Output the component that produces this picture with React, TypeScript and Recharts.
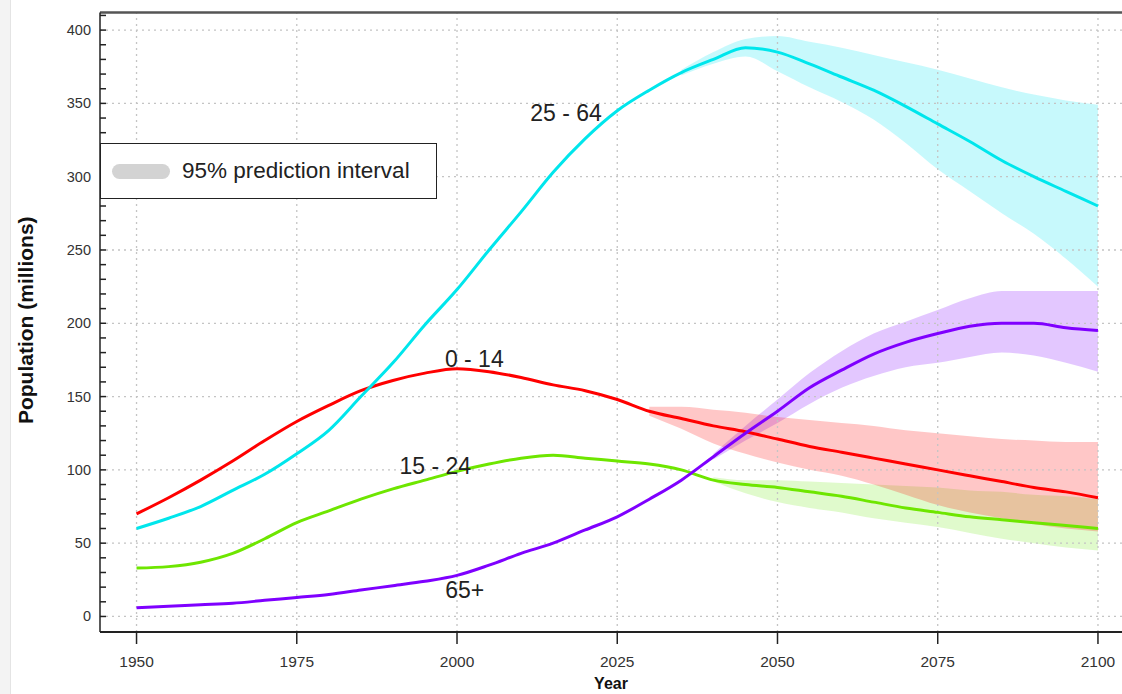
import React from 'react';
import {
  ComposedChart,
  Line,
  Area,
  XAxis,
  YAxis,
  ReferenceLine,
  ReferenceDot,
  Legend,
} from 'recharts';

// ---------- data ----------
const YEARS = [
  1950, 1955, 1960, 1965, 1970, 1975, 1980, 1985, 1990, 1995, 2000, 2005, 2010, 2015, 2020, 2025,
  2030, 2035, 2040, 2045, 2050, 2055, 2060, 2065, 2070, 2075, 2080, 2085, 2090, 2095, 2100,
];

const AGE_0_14 = [
  70, 81, 93, 106, 120, 133, 144, 154, 161, 166, 169, 167, 163, 158, 154, 148,
  140, 135, 130, 126, 121, 116, 112, 108, 104, 100, 96, 92, 88, 85, 81,
];
const AGE_15_24 = [
  33, 34, 37, 43, 53, 64, 72, 80, 87, 93, 99, 104, 108, 110, 108, 106,
  104, 100, 93, 90, 88, 85, 82, 78, 74, 71, 68, 66, 64, 62, 60,
];
const AGE_25_64 = [
  60, 67, 75, 86, 97, 111, 127, 150, 173, 199, 223, 250, 276, 303, 326, 345,
  359, 371, 380, 388, 385, 377, 368, 359, 348, 336, 324, 311, 300, 290, 280,
];
const AGE_65 = [
  6, 7, 8, 9, 11, 13, 15, 18, 21, 24, 28, 35, 43, 50, 59, 68,
  80, 93, 109, 125, 140, 156, 168, 179, 187, 193, 198, 200, 200, 197, 195,
];

// 95% prediction intervals (null = no interval)
const N = null;
const PI_0_14_LO = [N, N, N, N, N, N, N, N, N, N, N, N, N, N, N, N,
  137, 128, 118, 111, 105, 100, 96, 90, 83, 76, 71, 67, 63, 60, 58];
const PI_0_14_HI = [N, N, N, N, N, N, N, N, N, N, N, N, N, N, N, N,
  143, 143, 141, 139, 136, 134, 132, 130, 127, 125, 123, 121, 120, 119, 119];
const PI_15_24_LO = [N, N, N, N, N, N, N, N, N, N, N, N, N, N, N, N, N, N,
  92, 84, 78, 74, 71, 67, 64, 61, 57, 53, 50, 47, 45];
const PI_15_24_HI = [N, N, N, N, N, N, N, N, N, N, N, N, N, N, N, N, N, N,
  95, 93, 93, 92, 91, 90, 89, 88, 86, 85, 83, 82, 80];
const PI_25_64_LO = [N, N, N, N, N, N, N, N, N, N, N, N, N, N, N, N, N,
  369, 377, 382, 372, 361, 351, 339, 323, 305, 290, 275, 261, 244, 225];
const PI_25_64_HI = [N, N, N, N, N, N, N, N, N, N, N, N, N, N, N, N, N,
  373, 385, 394, 396, 392, 388, 383, 378, 373, 367, 361, 356, 352, 349];
const PI_65_LO = [N, N, N, N, N, N, N, N, N, N, N, N, N, N, N, N, N, N,
  107, 120, 132, 145, 156, 164, 170, 173, 177, 180, 178, 173, 167];
const PI_65_HI = [N, N, N, N, N, N, N, N, N, N, N, N, N, N, N, N, N, N,
  111, 130, 148, 166, 181, 193, 201, 209, 217, 222, 222, 222, 222];

const X_TICKS = [1950, 1975, 2000, 2025, 2050, 2075, 2100];
const Y_MAJOR = [0, 50, 100, 150, 200, 250, 300, 350, 400];
const Y_MINOR = [0, 10, 20, 30, 40, 50, 60, 70, 80, 90, 100, 110, 120, 130, 140, 150, 160, 170, 180, 190,
  200, 210, 220, 230, 240, 250, 260, 270, 280, 290, 300, 310, 320, 330, 340, 350, 360, 370, 380, 390, 400, 410];
const X_DOMAIN = [1944.3, 2103.75];
const Y_DOMAIN = [-10.6, 412];

const SERIES_LABELS = [
  { text: '25 - 64', year: 2017, value: 343.5 },
  { text: '0 - 14', year: 2002.7, value: 175.6 },
  { text: '15 - 24', year: 1996.6, value: 103 },
  { text: '65+', year: 2001.2, value: 18 },
];

const LEGEND_TEXT = '95% prediction interval';

const band = (lo: (number | null)[], hi: (number | null)[], i: number) =>
  lo[i] == null || hi[i] == null ? null : [lo[i], hi[i]];

const data = YEARS.map((year, i) => ({
  year,
  a014: AGE_0_14[i],
  a1524: AGE_15_24[i],
  a2564: AGE_25_64[i],
  a65: AGE_65[i],
  b014: band(PI_0_14_LO, PI_0_14_HI, i),
  b1524: band(PI_15_24_LO, PI_15_24_HI, i),
  b2564: band(PI_25_64_LO, PI_25_64_HI, i),
  b65: band(PI_65_LO, PI_65_HI, i),
}));

const FONT = "Arial, 'Liberation Sans', sans-serif";

const YTick = (props: any) => {
  const { x, y, payload } = props;
  const v = payload.value;
  const major = v % 50 === 0;
  return (
    <g>
      <line x1={x + 9} x2={x + 15} y1={y} y2={y} stroke="#222" strokeWidth={1.5} />
      {major && (
        <text x={x} y={y} textAnchor="end" dominantBaseline="central" fontSize={14.5} fill="#333" fontFamily={FONT}>
          {v}
        </text>
      )}
    </g>
  );
};

const YLabel = (props: any) => {
  const vb = props.viewBox || { x: 0, y: 12.5, width: 100, height: 620 };
  const cx = vb.x + 25;
  const cy = vb.y + vb.height / 2 - 2;
  return (
    <text
      x={cx}
      y={cy}
      transform={`rotate(-90, ${cx}, ${cy})`}
      textAnchor="middle"
      dominantBaseline="central"
      fontSize={21}
      fontWeight="bold"
      fill="#111"
      fontFamily={FONT}
    >
      Population (millions)
    </text>
  );
};

const LegendBox = () => (
  <div
    style={{
      boxSizing: 'border-box',
      width: 337,
      height: 56,
      border: '1.5px solid #222',
      background: '#fff',
      display: 'flex',
      alignItems: 'center',
      fontFamily: FONT,
    }}
  >
    <div style={{ width: 58, height: 15, borderRadius: 8, background: '#d3d3d3', marginLeft: 11, marginRight: 12 }} />
    <span style={{ fontSize: 22.5, color: '#222', whiteSpace: 'nowrap' }}>{LEGEND_TEXT}</span>
  </div>
);

export default function App() {
  return (
    <div
      style={{
        position: 'fixed',
        left: 0,
        top: 0,
        width: 1122,
        height: 694,
        overflow: 'hidden',
        background: '#fff',
      }}
    >
      <div style={{ position: 'absolute', left: 0, top: 0, width: 10, height: 694, background: '#f3f3f3', borderRight: '1px solid #e4e4e4' }} />
      <ComposedChart
        width={1122}
        height={694}
        data={data}
        margin={{ top: 12.5, right: 0, bottom: 0, left: 0 }}
        style={{ fontFamily: FONT }}
      >
        <XAxis
          dataKey="year"
          type="number"
          domain={X_DOMAIN}
          ticks={X_TICKS}
          allowDataOverflow
          height={62}
          tickSize={12}
          tickMargin={12}
          tickLine={{ stroke: '#222', strokeWidth: 1.5 }}
          axisLine={{ stroke: '#222', strokeWidth: 2 }}
          tick={{ fontSize: 15.5, fill: '#333', fontFamily: FONT }}
          label={{ value: 'Year', position: 'insideBottom', offset: 5, fontSize: 16, fontWeight: 'bold', fill: '#111', fontFamily: FONT }}
        />
        <YAxis
          type="number"
          domain={Y_DOMAIN}
          ticks={Y_MINOR}
          allowDataOverflow
          interval={0}
          width={100}
          tickSize={0}
          tickMargin={9}
          tickLine={false}
          axisLine={{ stroke: '#222', strokeWidth: 1.5 }}
          tick={<YTick />}
          label={<YLabel />}
        />

        {X_TICKS.map((t) => (
          <ReferenceLine key={'gx' + t} x={t} stroke="#c4c4c4" strokeDasharray="2 4" strokeWidth={1.3} />
        ))}
        {Y_MAJOR.map((t) => (
          <ReferenceLine key={'gy' + t} y={t} stroke="#c4c4c4" strokeDasharray="2 4" strokeWidth={1.3} />
        ))}
        <ReferenceLine y={Y_DOMAIN[1]} stroke="#555" strokeWidth={2.5} />

        <Area dataKey="b2564" type="monotone" stroke="none" fill="#00e5f0" fillOpacity={0.22} isAnimationActive={false} connectNulls={false} />
        <Area dataKey="b65" type="monotone" stroke="none" fill="#8000ff" fillOpacity={0.22} isAnimationActive={false} connectNulls={false} />
        <Area dataKey="b1524" type="monotone" stroke="none" fill="#64e600" fillOpacity={0.2} isAnimationActive={false} connectNulls={false} />
        <Area dataKey="b014" type="monotone" stroke="none" fill="#ff0000" fillOpacity={0.22} isAnimationActive={false} connectNulls={false} />

        <Line dataKey="a1524" type="monotone" stroke="#6ee600" strokeWidth={3} dot={false} activeDot={false} isAnimationActive={false} />
        <Line dataKey="a014" type="monotone" stroke="#ff0000" strokeWidth={3} dot={false} activeDot={false} isAnimationActive={false} />
        <Line dataKey="a2564" type="monotone" stroke="#00e6ec" strokeWidth={3} dot={false} activeDot={false} isAnimationActive={false} />
        <Line dataKey="a65" type="monotone" stroke="#7f00ff" strokeWidth={3} dot={false} activeDot={false} isAnimationActive={false} />

        {SERIES_LABELS.map((l) => (
          <ReferenceDot
            key={l.text}
            x={l.year}
            y={l.value}
            r={1}
            fill="none"
            stroke="none"
            label={{ value: l.text, position: 'center', fontSize: 23, fill: '#222', fontFamily: FONT }}
          />
        ))}

        <Legend
          layout="vertical"
          align="center"
          verticalAlign="middle"
          content={() => <LegendBox />}
          wrapperStyle={{ position: 'absolute', left: 100, top: 143, width: 337, height: 56 }}
        />
      </ComposedChart>
    </div>
  );
}
